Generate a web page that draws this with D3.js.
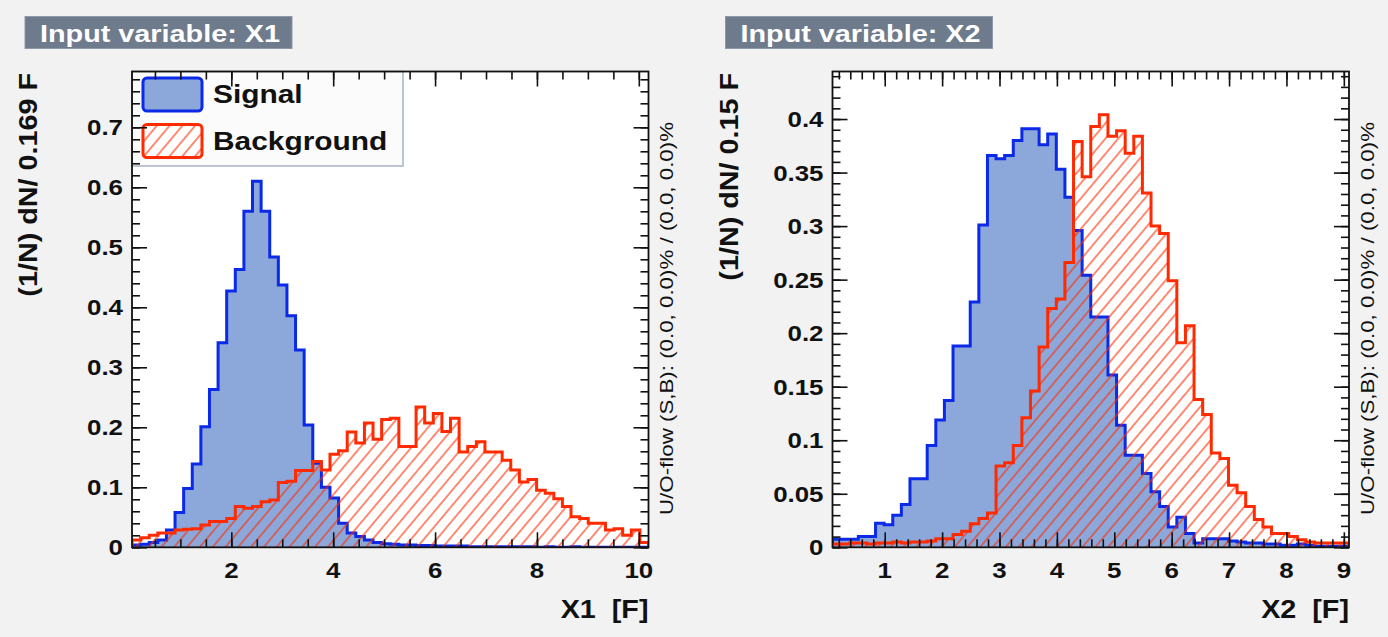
<!DOCTYPE html>
<html>
<head>
<meta charset="utf-8">
<script src="https://cdn.jsdelivr.net/npm/d3@7"></script>
<style>
  html, body { margin: 0; padding: 0; background: #f2f2f2; }
  svg { display: block; }
</style>
</head>
<body>
<svg id="canvas" width="1388" height="637"></svg>
<script>
// ---- Input variable X1: 60 bins of width 0.169 ----
const x1Range = [0.05, 10.19];
const x1Signal = [
  0.004, 0.005, 0.008, 0.012, 0.029, 0.058, 0.098, 0.139, 0.201, 0.263,
  0.341, 0.427, 0.463, 0.560, 0.610, 0.560, 0.484, 0.437, 0.386, 0.329,
  0.204, 0.140, 0.100, 0.082, 0.040, 0.024, 0.018, 0.012, 0.008, 0.006,
  0.005, 0.004, 0.004, 0.003, 0.003, 0.002, 0.002, 0.002, 0.002, 0.001,
  0.001, 0.001, 0.001, 0.001, 0.001, 0.001, 0.001, 0.000, 0.001, 0.000,
  0.000, 0.001, 0.000, 0.000, 0.000, 0.000, 0.000, 0.000, 0.000, 0.000
];
const x1Background = [
  0.012, 0.016, 0.020, 0.024, 0.024, 0.029, 0.030, 0.031, 0.037, 0.043,
  0.043, 0.048, 0.068, 0.065, 0.068, 0.076, 0.079, 0.108, 0.110, 0.128,
  0.128, 0.143, 0.129, 0.155, 0.161, 0.192, 0.174, 0.207, 0.180, 0.213,
  0.215, 0.168, 0.168, 0.234, 0.207, 0.223, 0.193, 0.215, 0.159, 0.168,
  0.176, 0.159, 0.159, 0.145, 0.129, 0.109, 0.113, 0.095, 0.090, 0.081,
  0.068, 0.051, 0.048, 0.040, 0.040, 0.029, 0.031, 0.020, 0.029, 0.008
];
const x1XTicks = [2, 4, 6, 8, 10];
const x1YTicks = [0, 0.1, 0.2, 0.3, 0.4, 0.5, 0.6, 0.7];

// ---- Input variable X2: 60 bins of width 0.15 ----
const x2Range = [0.09, 9.09];
const x2Signal = [
  0.0075, 0.0075, 0.0075, 0.010, 0.010, 0.0225, 0.021, 0.030, 0.040, 0.064,
  0.064, 0.095, 0.119, 0.137, 0.188, 0.188, 0.229, 0.301, 0.366, 0.363,
  0.366, 0.380, 0.391, 0.391, 0.376, 0.386, 0.353, 0.327, 0.296, 0.254,
  0.215, 0.215, 0.161, 0.114, 0.086, 0.086, 0.069, 0.052, 0.038, 0.019,
  0.028, 0.013, 0.004, 0.008, 0.008, 0.008, 0.006, 0.005, 0.004, 0.004,
  0.003, 0.003, 0.002, 0.002, 0.003, 0.002, 0.001, 0.001, 0.001, 0.001
];
const x2Background = [
  0.003, 0.003, 0.004, 0.004, 0.003, 0.004, 0.004, 0.005, 0.004, 0.005,
  0.005, 0.006, 0.008, 0.008, 0.012, 0.015, 0.022, 0.027, 0.032, 0.076,
  0.079, 0.095, 0.121, 0.146, 0.187, 0.223, 0.232, 0.266, 0.379, 0.346,
  0.393, 0.404, 0.384, 0.389, 0.368, 0.384, 0.331, 0.300, 0.293, 0.249,
  0.191, 0.207, 0.138, 0.124, 0.088, 0.083, 0.058, 0.051, 0.038, 0.026,
  0.019, 0.013, 0.013, 0.010, 0.007, 0.005, 0.004, 0.004, 0.004, 0.004
];
const x2XTicks = [1, 2, 3, 4, 5, 6, 7, 8, 9];
const x2YTicks = [0, 0.05, 0.1, 0.15, 0.2, 0.25, 0.3, 0.35, 0.4];

const legendLabels = ["Signal", "Background"];
const overflowText = "U/O-flow (S,B): (0.0, 0.0)% / (0.0, 0.0)%";

// ---- styling ----
const FONT = "'Liberation Sans', Arial, Helvetica, sans-serif";
const SIG_LINE = "#0a2ae8";
const SIG_FILL = "#8ca8da";
const BKG_LINE = "#ff2a00";
const TEXT_STRETCH = 1.15;   // glyphs run slightly wide
const FRAME_TOP = 71.5, FRAME_BOTTOM = 547.3, FRAME_W = 516.5;
const MAJOR_LEN = 15, MINOR_LEN = 8;

const panels = [
  { key: "x1", left: 132, title: "Input variable: X1", range: x1Range,
    sig: x1Signal, bkg: x1Background, headroom: 1.3,
    xTicks: x1XTicks, xMinor: 0.5, yTicks: x1YTicks, yMinor: 0.02,
    yTitle: "(1/N) dN/ 0.169 F", xTitle: "X1\u00a0\u00a0[F]", legend: true },
  { key: "x2", left: 832.5, title: "Input variable: X2", range: x2Range,
    sig: x2Signal, bkg: x2Background, headroom: 1.1,
    xTicks: x2XTicks, xMinor: 0.2, yTicks: x2YTicks, yMinor: 0.01,
    yTitle: "(1/N) dN/ 0.15 F", xTitle: "X2\u00a0\u00a0[F]", legend: false }
];

const svg = d3.select("#canvas");
svg.append("rect").attr("width", 1388).attr("height", 637).attr("fill", "#f2f2f2");

const defs = svg.append("defs");
// red diagonal hatching for the background histogram
defs.append("pattern")
  .attr("id", "hatch")
  .attr("patternUnits", "userSpaceOnUse")
  .attr("width", 9.8).attr("height", 10)
  .attr("patternTransform", "rotate(40)")
  .append("line")
  .attr("x1", 4.9).attr("y1", -1).attr("x2", 4.9).attr("y2", 11)
  .attr("stroke", BKG_LINE).attr("stroke-width", 1.1);

function addText(g, str, x, y, o) {
  return g.append("text")
    .attr("transform", `translate(${x},${y}) rotate(${o.rotate || 0}) scale(${o.sx || TEXT_STRETCH},1)`)
    .attr("text-anchor", o.anchor || "start")
    .attr("font-family", FONT)
    .attr("font-size", o.size)
    .attr("font-weight", o.weight || "bold")
    .attr("fill", o.fill || "#111")
    .text(str);
}

function stepRange(maxV, step) {
  const n = Math.floor(maxV / step + 1e-9);
  return d3.range(0, n + 1).map(i => +(i * step).toFixed(6));
}

panels.forEach(p => {
  const g = svg.append("g").attr("class", "panel-" + p.key);
  const x0 = p.left, x1 = p.left + FRAME_W;
  const nBins = p.sig.length;
  const binW = (p.range[1] - p.range[0]) / nBins;
  const yMax = Math.max(d3.max(p.sig), d3.max(p.bkg)) * p.headroom;

  const x = d3.scaleLinear().domain(p.range).range([x0, x1]);
  const y = d3.scaleLinear().domain([0, yMax]).range([FRAME_BOTTOM, FRAME_TOP]);

  // title box
  const tb = g.append("g");
  tb.append("rect")
    .attr("x", x0 - 107).attr("y", 16.5).attr("width", 267).attr("height", 32)
    .attr("fill", "#6e7b8d").attr("stroke", "#8d98a8").attr("stroke-width", 1);
  addText(tb, p.title, x0 - 92, 41.5, { size: 24, fill: "#ffffff", sx: 1.2 });

  // frame
  g.append("rect")
    .attr("x", x0).attr("y", FRAME_TOP).attr("width", FRAME_W).attr("height", FRAME_BOTTOM - FRAME_TOP)
    .attr("fill", "#ffffff");

  const clipId = "clip-" + p.key;
  defs.append("clipPath").attr("id", clipId)
    .append("rect").attr("x", x0).attr("y", FRAME_TOP)
    .attr("width", FRAME_W).attr("height", FRAME_BOTTOM - FRAME_TOP);

  const plot = g.append("g").attr("clip-path", `url(#${clipId})`);

  const stepPts = vals => {
    const pts = [[p.range[0], 0]];
    vals.forEach((v, i) => {
      const a = p.range[0] + i * binW, b = a + binW;
      pts.push([a, v], [b, v]);
    });
    pts.push([p.range[0] + nBins * binW, 0]);
    return pts;
  };
  const line = d3.line().x(d => x(d[0])).y(d => y(d[1]));

  const sigPts = stepPts(p.sig), bkgPts = stepPts(p.bkg);
  plot.append("path").attr("d", line(sigPts) + "Z").attr("fill", SIG_FILL).attr("stroke", "none");
  plot.append("path").attr("d", line(sigPts)).attr("fill", "none")
    .attr("stroke", SIG_LINE).attr("stroke-width", 3).attr("stroke-linejoin", "miter");
  plot.append("path").attr("d", line(bkgPts) + "Z").attr("fill", "url(#hatch)").attr("stroke", "none");
  plot.append("path").attr("d", line(bkgPts)).attr("fill", "none")
    .attr("stroke", BKG_LINE).attr("stroke-width", 3).attr("stroke-linejoin", "miter");

  // legend
  if (p.legend) {
    const lg = g.append("g");
    lg.append("rect")
      .attr("x", x0).attr("y", FRAME_TOP).attr("width", 271).attr("height", 94.5)
      .attr("fill", "#fbfbfb").attr("stroke", "#a9b3c2").attr("stroke-width", 1.5);
    lg.append("rect").attr("x", x0 + 11).attr("y", 78).attr("width", 59).attr("height", 33)
      .attr("rx", 4).attr("fill", SIG_FILL).attr("stroke", SIG_LINE).attr("stroke-width", 3);
    lg.append("rect").attr("x", x0 + 11).attr("y", 124.5).attr("width", 59).attr("height", 33)
      .attr("rx", 4).attr("fill", "#ffffff").attr("stroke", "none");
    lg.append("rect").attr("x", x0 + 11).attr("y", 124.5).attr("width", 59).attr("height", 33)
      .attr("rx", 4).attr("fill", "url(#hatch)").attr("stroke", BKG_LINE).attr("stroke-width", 3);
    addText(lg, legendLabels[0], x0 + 81, 103, { size: 26 });
    addText(lg, legendLabels[1], x0 + 81, 149.5, { size: 26 });
  }

  // ticks on all four sides, pointing into the frame
  const xMin = stepRange(p.range[1], p.xMinor).filter(v => v >= p.range[0]);
  const yMin = stepRange(yMax, p.yMinor);
  const axes = g.append("g");
  const put = (axis, tx, ty) => {
    const a = axes.append("g").attr("transform", `translate(${tx},${ty})`).call(axis);
    a.select(".domain").remove();
    a.selectAll("line").attr("stroke", "#111").attr("stroke-width", 1.6);
    a.selectAll("text").remove();
  };
  put(d3.axisBottom(x).tickValues(p.xTicks).tickSize(-MAJOR_LEN), 0, FRAME_BOTTOM);
  put(d3.axisBottom(x).tickValues(xMin).tickSize(-MINOR_LEN), 0, FRAME_BOTTOM);
  put(d3.axisTop(x).tickValues(p.xTicks).tickSize(-MAJOR_LEN), 0, FRAME_TOP);
  put(d3.axisTop(x).tickValues(xMin).tickSize(-MINOR_LEN), 0, FRAME_TOP);
  put(d3.axisLeft(y).tickValues(p.yTicks).tickSize(-MAJOR_LEN), x0, 0);
  put(d3.axisLeft(y).tickValues(yMin).tickSize(-MINOR_LEN), x0, 0);
  put(d3.axisRight(y).tickValues(p.yTicks).tickSize(-MAJOR_LEN), x1, 0);
  put(d3.axisRight(y).tickValues(yMin).tickSize(-MINOR_LEN), x1, 0);

  g.append("rect")
    .attr("x", x0).attr("y", FRAME_TOP).attr("width", FRAME_W).attr("height", FRAME_BOTTOM - FRAME_TOP)
    .attr("fill", "none").attr("stroke", "#111").attr("stroke-width", 1.8);

  // tick labels
  const fmt = d3.format("~g");
  p.xTicks.forEach(v => addText(g, fmt(v), x(v), 578, { size: 22.5, anchor: "middle" }));
  p.yTicks.forEach(v => addText(g, fmt(v), x0 - 9, y(v) + 8, { size: 22.5, anchor: "end" }));

  // axis titles
  addText(g, p.xTitle, x1, 618, { size: 25, anchor: "end" });
  addText(g, p.yTitle, x0 - 95, 73, { size: 25, anchor: "end", rotate: -90 });

  // under/overflow note
  addText(g, overflowText, x1 + 24.5, 515, { size: 18, weight: "normal", fill: "#111", rotate: -90, sx: 1.24 });
});
</script>
</body>
</html>
